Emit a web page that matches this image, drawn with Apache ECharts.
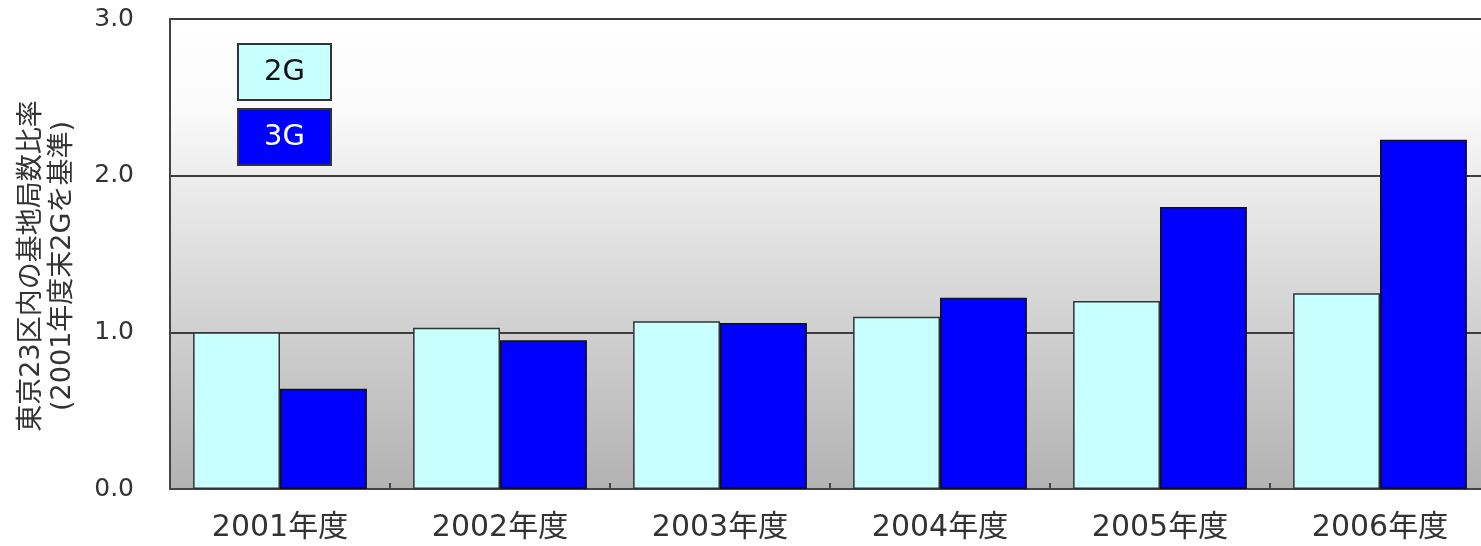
<!DOCTYPE html>
<html>
<head>
<meta charset="utf-8">
<script src="https://cdn.jsdelivr.net/npm/echarts@6/dist/echarts.min.js"></script>
<style>
  html, body { margin: 0; padding: 0; background: #ffffff; overflow: hidden; }
  #chart { width: 1500px; height: 546px; }
</style>
</head>
<body>
<div id="chart"></div>
<script>
// 東京23区内の基地局数比率（2001年度末の2G局数を1.0とした比率）
const categories = ['2001年度', '2002年度', '2003年度', '2004年度', '2005年度', '2006年度'];
const seriesNames = ['2G', '3G'];
const values2G = [1.00, 1.03, 1.07, 1.10, 1.20, 1.25];
const values3G = [0.64, 0.95, 1.06, 1.22, 1.80, 2.23];
const yAxisTitle = '東京23区内の基地局数比率\n(2001年度末2Gを基準)';

const FONT = '"DejaVu Sans", "Noto Sans CJK JP", sans-serif';
const fills = ['#c8ffff', '#0000ff'];
const textColors = ['#111111', '#ffffff'];

const chart = echarts.init(document.getElementById('chart'), null, { renderer: 'canvas' });

// legend boxes: series name written inside a coloured, framed box
const legendRich = {};
seriesNames.forEach((n, i) => {
  legendRich['k' + i] = {
    width: 91,
    height: 54,
    lineHeight: 54,
    align: 'center',
    verticalAlign: 'middle',
    fontSize: 29,
    fontFamily: FONT,
    color: textColors[i],
    backgroundColor: fills[i],
    borderColor: '#333333',
    borderWidth: 2
  };
});

chart.setOption({
  animation: false,
  textStyle: { fontFamily: FONT },
  grid: {
    left: 170,
    top: 19,
    bottom: 57,
    width: 1320,
    show: true,
    borderColor: '#7a7a7a',
    borderWidth: 1.5,
    backgroundColor: new echarts.graphic.LinearGradient(0, 0, 0, 1, [
      { offset: 0, color: '#ffffff' },
      { offset: 0.18, color: '#fbfbfb' },
      { offset: 1, color: '#b2b2b2' }
    ])
  },
  legend: {
    orient: 'vertical',
    left: 228,
    top: 38,
    itemWidth: 0,
    itemHeight: 0,
    itemGap: 7,
    selectedMode: false,
    data: seriesNames,
    formatter: name => '{k' + seriesNames.indexOf(name) + '|' + name + '}',
    textStyle: { rich: legendRich }
  },
  xAxis: {
    type: 'category',
    data: categories,
    boundaryGap: true,
    axisLine: { show: true, lineStyle: { color: '#444444', width: 2 } },
    axisTick: { show: true, inside: true, length: 6, lineStyle: { color: '#444444', width: 2 } },
    axisLabel: { fontSize: 30, color: '#333333', margin: 24, fontFamily: FONT },
    splitLine: { show: false }
  },
  yAxis: {
    type: 'value',
    min: 0,
    max: 3,
    interval: 1,
    name: yAxisTitle,
    nameLocation: 'middle',
    nameGap: 92,
    nameRotate: 90,
    nameTextStyle: {
      fontSize: 27,
      lineHeight: 31,
      color: '#333333',
      fontFamily: FONT,
      padding: [0, 24, 0, 0]
    },
    axisLine: { show: true, lineStyle: { color: '#444444', width: 2 } },
    axisTick: { show: false },
    axisLabel: {
      fontSize: 25,
      color: '#333333',
      margin: 36,
      fontFamily: FONT,
      formatter: v => v.toFixed(1)
    },
    splitLine: { show: true, lineStyle: { color: '#3c3c3c', width: 2 } }
  },
  series: [
    {
      name: seriesNames[0],
      type: 'bar',
      data: values2G,
      barGap: '0%',
      barCategoryGap: '21%',
      itemStyle: { color: fills[0], borderColor: '#333333', borderWidth: 1.5 }
    },
    {
      name: seriesNames[1],
      type: 'bar',
      data: values3G,
      barGap: '0%',
      barCategoryGap: '21%',
      itemStyle: { color: fills[1], borderColor: '#111111', borderWidth: 1.5 }
    }
  ]
});
</script>
</body>
</html>
